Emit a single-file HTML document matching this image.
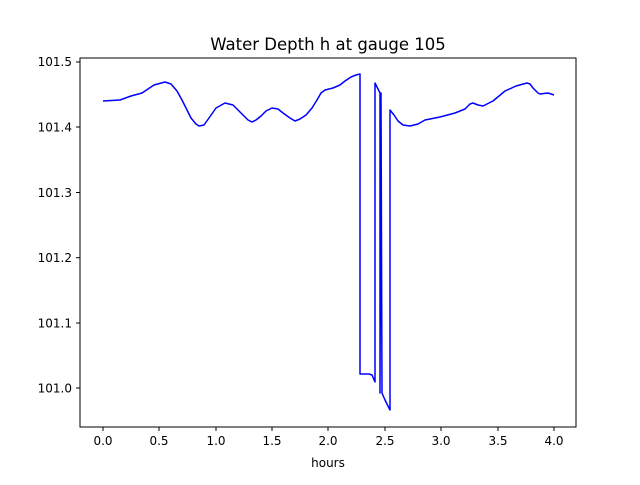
<!DOCTYPE html><html><head><style>body{margin:0;background:#fff}svg text{font-family:"DejaVu Sans",sans-serif;font-size:12px;fill:#000}</style></head><body>
<svg width="640" height="480" xmlns="http://www.w3.org/2000/svg">
<rect width="640" height="480" fill="#fff"/>
<text x="328" y="50" text-anchor="middle" style="font-size:16.5px">Water Depth h at gauge 105</text>
<polyline fill="none" stroke="#0000ff" stroke-width="1.5" stroke-linejoin="round" points="103,101 120,100 131,96 142,93 154,85 165,82 171,84 177,91 182,100 187,110 191,118 196,124 199,126 204,125 209,118 216,108 225,103 233,105 238,110 244,116 248,120 252,122 256,120 261,116 266,111 272,108 278,109 283,113 290,118 295,121 300,119 306,115 312,108 317,100 321,93 325,90 333,88 340,85 345,81 351,77 356,75 360,74 360,374 369,374 372,375 375,382 375,83 380,93 380,393 381,93 382,393 385,400 390,410 390,110 394,115 398,121 403,125 410,126 418,124 425,120 440,117 455,113 465,109 470,104 473,103 478,105 483,106 489,103 493,101 499,96 505,91 516,86 527,83 530,84 533,88 538,93 540,94 548,93 554,95"/>
<rect x="80" y="58" width="496" height="369" fill="none" stroke="#000" stroke-width="1"/>
<g stroke="#000" stroke-width="1">
<line x1="103" y1="427" x2="103" y2="431"/><line x1="159" y1="427" x2="159" y2="431"/><line x1="216" y1="427" x2="216" y2="431"/><line x1="272" y1="427" x2="272" y2="431"/><line x1="328" y1="427" x2="328" y2="431"/><line x1="385" y1="427" x2="385" y2="431"/><line x1="441" y1="427" x2="441" y2="431"/><line x1="498" y1="427" x2="498" y2="431"/><line x1="554" y1="427" x2="554" y2="431"/>
<line x1="76" y1="62" x2="80" y2="62"/><line x1="76" y1="127" x2="80" y2="127"/><line x1="76" y1="192.5" x2="80" y2="192.5"/><line x1="76" y1="257.7" x2="80" y2="257.7"/><line x1="76" y1="323" x2="80" y2="323"/><line x1="76" y1="388" x2="80" y2="388"/>
</g>
<g text-anchor="middle">
<text x="103" y="445">0.0</text><text x="159" y="445">0.5</text><text x="216" y="445">1.0</text><text x="272" y="445">1.5</text><text x="328" y="445">2.0</text><text x="385" y="445">2.5</text><text x="441" y="445">3.0</text><text x="498" y="445">3.5</text><text x="554" y="445">4.0</text>
<text x="328" y="467">hours</text>
</g>
<g text-anchor="end">
<text x="72" y="66">101.5</text><text x="72" y="131.5">101.4</text><text x="72" y="197">101.3</text><text x="72" y="262">101.2</text><text x="72" y="327.5">101.1</text><text x="72" y="392.5">101.0</text>
</g>
</svg></body></html>
